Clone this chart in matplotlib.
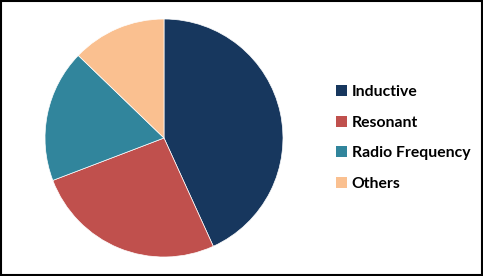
import matplotlib.pyplot as plt
from matplotlib.patches import Patch, Rectangle

labels = ["Inductive", "Resonant", "Radio Frequency", "Others"]
shares = [43.2, 26.0, 18.0, 12.8]
colors = ["#17375e", "#c0504d", "#31859c", "#fac090"]

W, H = 483, 276
fig = plt.figure(figsize=(W / 100, H / 100), dpi=100)

# pie centred at (164, 138) px, radius ~119 px
cx, cy, r = 164, 138, 119
ax = fig.add_axes([(cx - r) / W, (H - cy - r) / H, 2 * r / W, 2 * r / H])
ax.pie(shares, colors=colors, startangle=90, counterclock=False,
       wedgeprops=dict(edgecolor="white", linewidth=0.5))
ax.set_xlim(-1, 1)
ax.set_ylim(-1, 1)
ax.set_aspect("equal")
ax.axis("off")

handles = [Patch(facecolor=c, edgecolor="none") for c in colors]
fig.legend(handles, labels, loc="center left", bbox_to_anchor=(336 / W, 1 - 138 / H),
           frameon=False, prop=dict(family="Lato", weight="bold", size=11.3),
           handlelength=0.7, handleheight=0.7, handletextpad=0.3, labelspacing=1.05,
           borderpad=0, borderaxespad=0)

fig.add_artist(Rectangle((0.0015, 0.002), 0.997, 0.995, transform=fig.transFigure,
                         fill=False, edgecolor="black", linewidth=1.5))

fig.savefig("out.png", dpi=100)
